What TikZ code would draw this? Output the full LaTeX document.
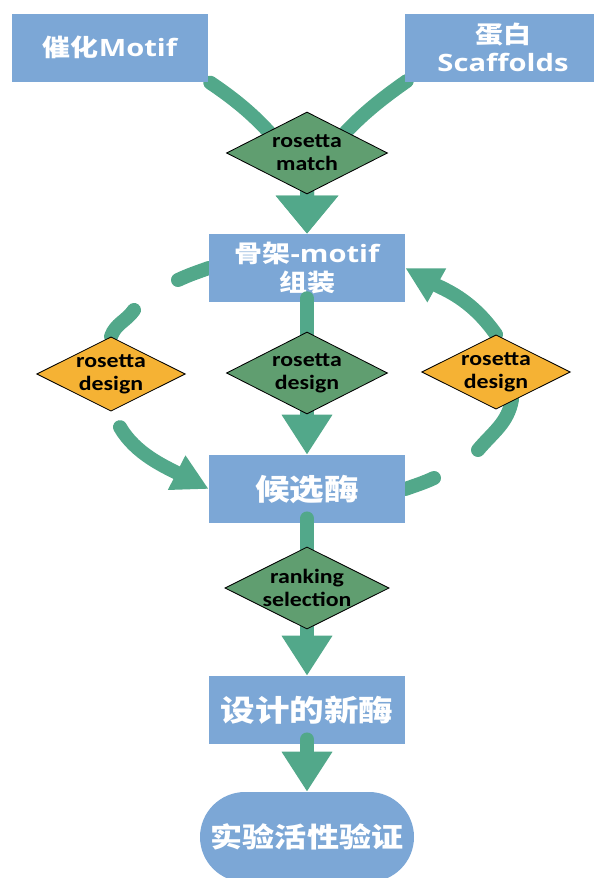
\documentclass[tikz,border=0pt]{standalone}
\usepackage{fontspec}
\setmainfont{Open Sans}[FakeStretch=1.22]
\newfontfamily\cjk{Noto Sans CJK SC}[FakeStretch=1.17]
\newfontfamily\dfont{Carlito}[FakeStretch=1.17]
\usetikzlibrary{shapes.geometric,shapes.misc,arrows.meta,calc}
\definecolor{boxblue}{RGB}{124,167,214}
\definecolor{flowgreen}{RGB}{82,168,138}
\definecolor{toolgreen}{RGB}{96,158,112}
\definecolor{toolorange}{RGB}{245,178,52}
\pgfdeclarelayer{back}
\pgfdeclarelayer{front}
\pgfsetlayers{back,main,front}

\begin{document}
\begin{tikzpicture}[
        stage/.style={rectangle,fill=boxblue,text=white,minimum width=4.9cm,minimum height=1.7cm,
            inner sep=0pt,align=center,font=\fontsize{17}{20}\selectfont\bfseries},
        bigstage/.style={stage,font=\fontsize{21}{24}\selectfont\bfseries},
        assaybox/.style={stage,rounded rectangle,minimum width=5.35cm,minimum height=2.25cm,
            font=\fontsize{19.5}{22}\selectfont\bfseries},
        tool/.style={diamond,aspect=2,draw=black,line width=0.6pt,fill=toolgreen,minimum width=4.025cm,
            minimum height=2.05cm,inner sep=0pt,align=center,font=\dfont\fontsize{14.5}{16.5}\selectfont\bfseries},
        sidetool/.style={tool,fill=toolorange,minimum width=3.675cm,minimum height=1.75cm},
        flow/.style={draw=flowgreen,line width=0.35cm,line cap=round},
        tophead/.style={-{Triangle[width=1.5cm,length=0.95cm]}},
        downhead/.style={-{Triangle[width=1.2cm,length=1cm]}},
        sidehead/.style={-{Triangle[width=0.9cm,length=0.9cm]}}]
        \useasboundingbox (0,0) rectangle (14.85,-21.95);

        %%%%%%% Stadi %%%%%%%
        \node[stage] (motif) at (2.75,-1.19) {{\cjk 催化}Motif};
        \node[stage] (scaffold) at (12.575,-1.19) {{\cjk 蛋白}\\Scaffolds};
        \node[stage] (assembly) at (7.675,-6.7) {{\cjk 骨架}-motif\\{\cjk 组装}};
        \node[bigstage] (candidate) at (7.675,-12.225) {\cjk 候选酶};
        \node[bigstage] (enzyme) at (7.675,-17.75) {\cjk 设计的新酶};
        \node[assaybox] (assay) at (7.675,-20.925) {\cjk 实验活性验证};

        %%%%%%% Rombi %%%%%%%
        \begin{pgfonlayer}{front}
            \node[tool] (match) at (7.675,-3.825) {rosetta\\match};
            \node[tool] (design) at (7.675,-9.325) {rosetta\\design};
            \node[sidetool] (ldesign) at (2.775,-9.35) {rosetta\\design};
            \node[sidetool] (rdesign) at (12.4,-9.3) {rosetta\\design};
            \node[tool] (ranking) at (7.675,-14.7) {ranking\\selection};
        \end{pgfonlayer}

        %%%%%%% Frecce dietro %%%%%%%
        \begin{pgfonlayer}{back}
            \coordinate (merge) at ($(match.center)+(0,-0.7)$);
            \draw[flow,tophead] ($(motif.south east)+(0.05,-0.02)$) to[out=-34,in=125] (merge) -- (assembly.north);
            \draw[flow,tophead] ($(scaffold.south west)+(0.05,0.02)$) to[out=-145,in=55] (merge) -- (assembly.north);

            \coordinate (lstub) at (4.45,-7.0);
            \coordinate (lgap) at (3.35,-7.75);
            \draw[flow] (assembly.west) to[out=200,in=25] (lstub);
            \draw[flow] (lgap) to[out=235,in=70] (ldesign.north);
            \draw[flow,sidehead,shorten <=0.45cm] (ldesign.south) to[out=-60,in=153] (candidate.west);

            \coordinate (rstub) at (10.85,-11.95);
            \coordinate (rgap) at (11.95,-11.25);
            \draw[flow] (candidate.east) to[out=20,in=205] (rstub);
            \draw[flow] (rgap) to[out=50,in=-100] ($(rdesign.south)+(0.4,0.25)$);
            \draw[flow,sidehead] (rdesign.north) to[out=125,in=-29] (assembly.east);
        \end{pgfonlayer}

        %%%%%%% Frecce centrali %%%%%%%
        \draw[flow,downhead] ($(assembly.south)+(0,0.1)$) -- (candidate.north);
        \draw[flow,downhead] ($(candidate.south)+(0,0.12)$) -- (enzyme.north);
        \draw[flow,downhead] ($(enzyme.south)+(0,0.12)$) -- (assay.north);
    \end{tikzpicture}
\end{document}
